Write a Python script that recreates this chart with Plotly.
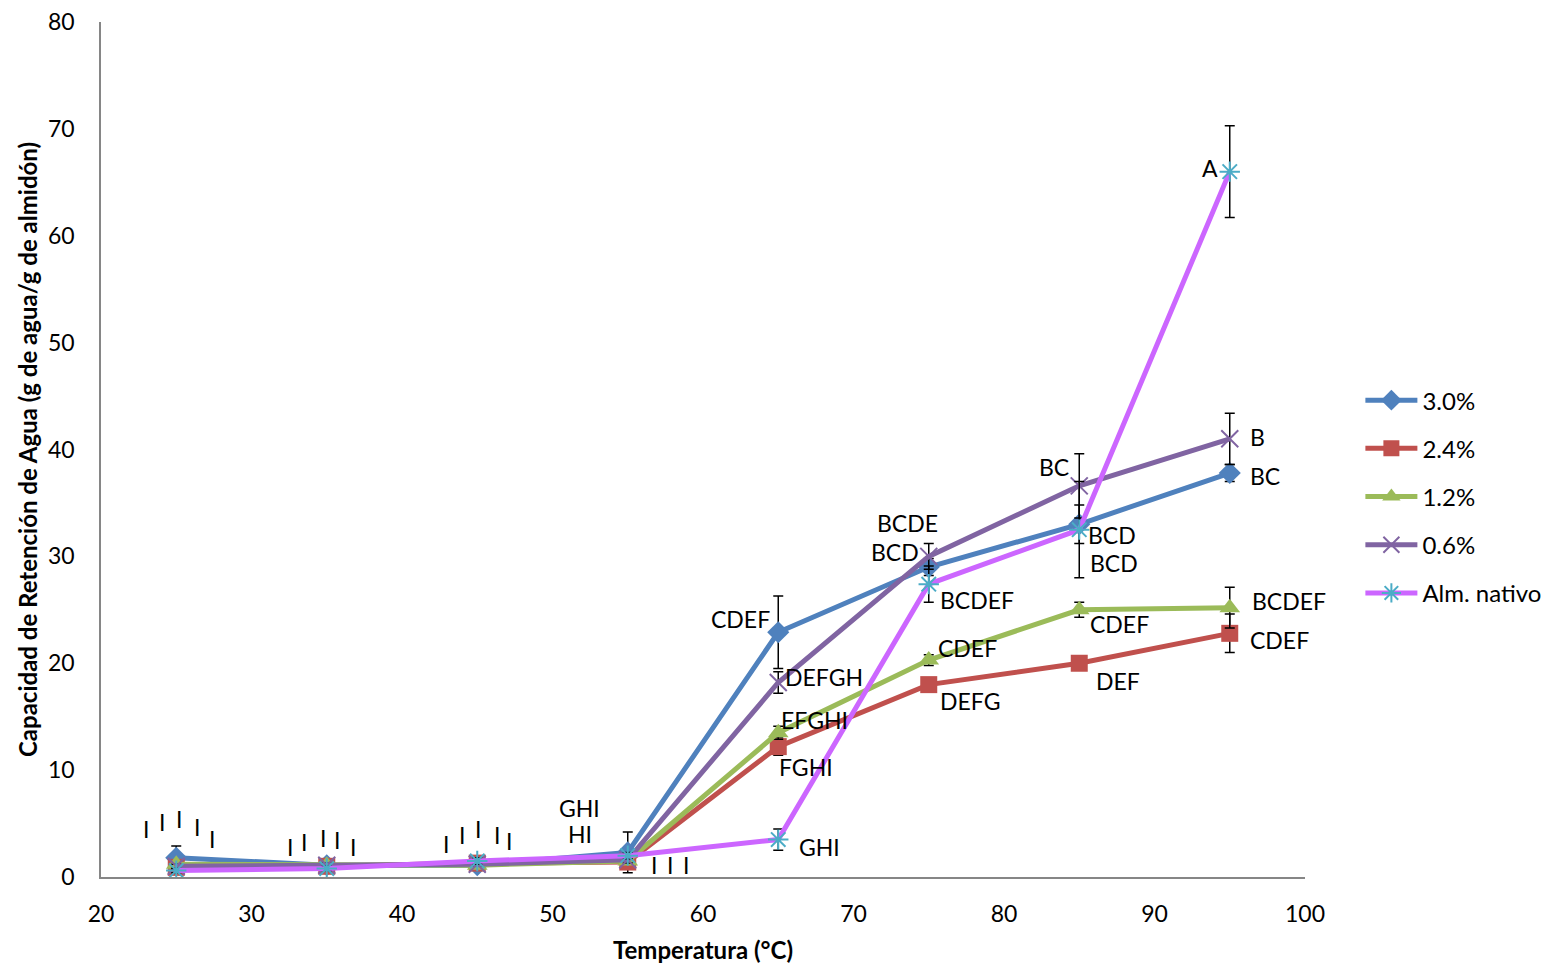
import plotly.graph_objects as go

# Temperatures (°C)
temperatura = [25, 35, 45, 55, 65, 75, 85, 95]

# Water retention capacity (g water / g starch) and standard deviations
s_30 = [1.8, 1.1, 1.1, 2.3, 22.9, 29.0, 33.0, 37.8]
e_30 = [1.1, 0.3, 0.3, 1.9, 3.4, 0.8, 1.8, 0.8]
s_24 = [0.9, 1.0, 1.3, 1.4, 12.2, 18.0, 20.0, 22.8]
e_24 = [0.2, 0.2, 0.2, 0.3, 0.8, 0.6, 0.6, 1.8]
s_12 = [1.2, 1.1, 1.1, 1.5, 13.5, 20.3, 25.0, 25.2]
e_12 = [0.2, 0.2, 0.2, 0.3, 0.6, 0.5, 0.7, 1.9]
s_06 = [1.0, 1.1, 1.2, 1.6, 18.2, 30.0, 36.6, 41.0]
e_06 = [0.2, 0.2, 0.2, 0.3, 1.0, 1.2, 3.0, 2.4]
s_nat = [0.6, 0.8, 1.5, 2.0, 3.5, 27.4, 32.5, 66.0]
e_nat = [0.2, 0.2, 0.3, 0.3, 1.0, 1.7, 4.5, 4.3]

series_names = ["3.0%", "2.4%", "1.2%", "0.6%", "Alm. nativo"]
series_vals = [s_30, s_24, s_12, s_06, s_nat]
series_errs = [e_30, e_24, e_12, e_06, e_nat]

# Significance letters per series and temperature
letras = {
    0: ["I", "I", "I", "GHI", "CDEF", "BCD", "BCD", "BC"],
    1: ["I", "I", "I", "I", "FGHI", "DEFG", "DEF", "CDEF"],
    2: ["I", "I", "I", "I", "EFGHI", "CDEF", "CDEF", "BCDEF"],
    3: ["I", "I", "I", "HI", "DEFGH", "BCDE", "BC", "B"],
    4: ["I", "I", "I", "I", "GHI", "BCDEF", "BCD", "A"],
}

# Pixel offsets of each letter label from its point (dx right, dy down)
offsets = {
    0: [(-30, -29), (-37, -18), (-31, -21), (-48, -44), (-38, -13), (-34, -15), (35, 39), (35, 3)],
    1: [(-14, -45), (-23, -24), (-15, -28), (26, 3), (28, 20), (41, 16), (39, 18), (50, 7)],
    2: [(3, -45), (-4, -27), (1, -36), (42, 4), (36, -13), (39, -12), (40, 14), (59, -7)],
    3: [(21, -39), (10, -25), (20, -29), (-48, -26), (46, -5), (-21, -33), (-25, -19), (28, -2)],
    4: [(36, -32), (26, -21), (32, -20), (58, 9), (41, 7), (48, 16), (33, 5), (-20, -4)],
}

line_colors = ["#4F81BD", "#C0504D", "#9BBB59", "#8064A2", "#CC66FF"]
marker_colors = ["#4F81BD", "#C0504D", "#9BBB59", "#8064A2", "#4BACC6"]
symbols = ["diamond", "square", "triangle-up", "x-thin-open", "asterisk-open"]
sizes = [17, 17, 18, 17, 17]

FONT = "Lato, Carlito, Calibri, sans-serif"

fig = go.Figure()
for i, name in enumerate(series_names):
    marker = dict(symbol=symbols[i], size=sizes[i], color=marker_colors[i])
    if symbols[i].endswith("open"):
        marker["line"] = dict(color=marker_colors[i], width=2)
    fig.add_trace(go.Scatter(
        x=temperatura, y=series_vals[i], name=name, mode="lines+markers",
        line=dict(color=line_colors[i], width=5),
        marker=marker,
        legendgroup=name,
        error_y=dict(type="data", array=series_errs[i], visible=True,
                     color="black", thickness=1.5, width=5),
    ))

annotations = []
for i in range(len(series_names)):
    for j, t in enumerate(temperatura):
        dx, dy = offsets[i][j]
        annotations.append(dict(
            x=t, y=series_vals[i][j], xref="x", yref="y", text=letras[i][j],
            showarrow=False, xshift=dx, yshift=-dy,
            xanchor="center", yanchor="middle",
            font=dict(family=FONT, size=23, color="black"),
        ))

fig.update_layout(
    width=1552, height=968,
    paper_bgcolor="white", plot_bgcolor="white",
    margin=dict(l=101, r=247, t=22, b=91, pad=0, autoexpand=False),
    font=dict(family=FONT, size=23, color="black"),
    annotations=annotations,
    showlegend=True,
    legend=dict(
        x=1.046, y=0.445, xanchor="left", yanchor="middle",
        font=dict(family=FONT, size=24, color="black"),
        tracegroupgap=14, itemwidth=52, bgcolor="rgba(0,0,0,0)",
    ),
    xaxis=dict(
        range=[20, 100], tickmode="array", tickvals=[20, 30, 40, 50, 60, 70, 80, 90, 100],
        showgrid=False, zeroline=False, showline=True, linecolor="#868686", linewidth=1.5,
        ticks="", ticklabelstandoff=16, tickfont=dict(size=23), automargin=False,
        title=dict(text="<b>Temperatura (°C)</b>", font=dict(size=24), standoff=16),
    ),
    yaxis=dict(
        range=[0, 80], tickmode="array", tickvals=[0, 10, 20, 30, 40, 50, 60, 70, 80],
        showgrid=False, zeroline=False, showline=True, linecolor="#868686", linewidth=1.5,
        ticks="", ticklabelstandoff=20, tickfont=dict(size=23), automargin=False,
        title=dict(text="<b>Capacidad de Retención de Agua (g de agua/g de almidón)</b>",
                   font=dict(size=24), standoff=4),
    ),
)

fig.write_html("out.html")
